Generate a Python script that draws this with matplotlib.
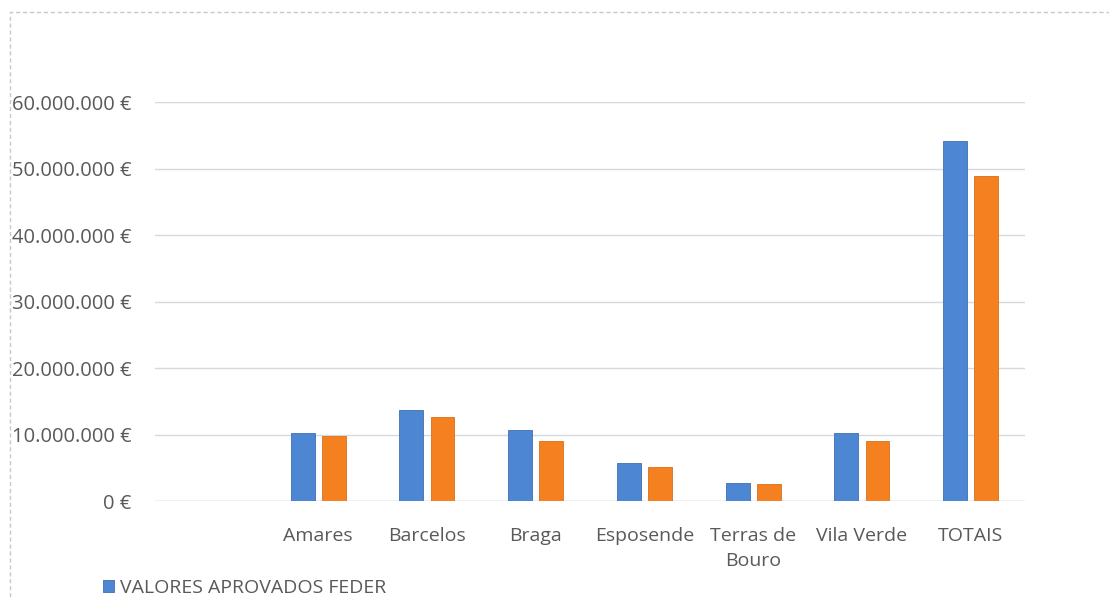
import matplotlib
matplotlib.use("Agg")
from matplotlib import pyplot as plt
from matplotlib.patches import Rectangle
from matplotlib.ticker import FuncFormatter
import numpy as np

categories = ["", "Amares", "Barcelos", "Braga", "Esposende", "Terras de\nBouro", "Vila Verde", "TOTAIS"]
aprovados = [0, 10.27e6, 13.7e6, 10.7e6, 5.76e6, 2.66e6, 10.2e6, 54.1e6]
executados = [0, 9.77e6, 12.7e6, 9.0e6, 5.07e6, 2.5e6, 9.0e6, 48.9e6]
yticks = [0, 10e6, 20e6, 30e6, 40e6, 50e6, 60e6]

blue = "#4d87d3"
orange = "#f4801f"
grey_txt = "#595959"

plt.rcParams['font.family'] = ['Open Sans', 'DejaVu Sans']


def euro(v, pos):
    return "{:,.0f} €".format(v).replace(",", ".")


def main():
    fig = plt.figure(figsize=(11.09, 5.99), dpi=100)
    ax = fig.add_axes([0.1398, 0.1636, 0.7845, 0.6661])

    x = np.arange(len(categories))
    w = 0.22
    b1 = ax.bar(x - 0.143, aprovados, w, color=blue, edgecolor="#3f6fb0", linewidth=0.6,
                label="VALORES APROVADOS FEDER")
    ax.bar(x + 0.143, executados, w, color=orange, edgecolor="#d8701a", linewidth=0.6)

    ax.set_xlim(-0.5, len(categories) - 0.5)
    ax.set_ylim(0, 60e6)
    ax.set_yticks(yticks)
    ax.yaxis.set_major_formatter(FuncFormatter(euro))
    ax.set_xticks(x)
    ax.set_xticklabels(categories, color=grey_txt, fontsize=14, linespacing=1.45)
    ax.tick_params(axis='y', colors=grey_txt, labelsize=14.5, length=0, pad=17)
    ax.tick_params(axis='x', length=0, pad=19)
    ax.grid(axis='y', color="#d5d8de", linewidth=1.0)
    ax.set_axisbelow(True)
    for s in ax.spines.values():
        s.set_visible(False)
    ax.axhline(0, color="#d5d8de", linewidth=1.0, zorder=0)

    fig.legend(handles=[b1], loc="lower left", bbox_to_anchor=(0.077, -0.026), frameon=False,
               fontsize=14, labelcolor=grey_txt, handlelength=0.55, handleheight=0.55,
               handletextpad=0.35)

    # chart border of the scan
    fig.patches.append(Rectangle((0.009, -0.01), 1.2, 0.99, transform=fig.transFigure,
                                 fill=False, edgecolor="#c8c8c8", linewidth=1.0,
                                 linestyle=(0, (3, 2))))

    plt.savefig("out.png", dpi=100)


if __name__ == '__main__':
    main()
